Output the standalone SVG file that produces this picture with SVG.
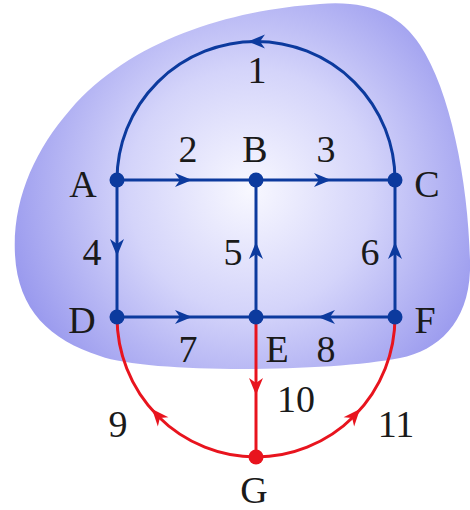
<svg xmlns="http://www.w3.org/2000/svg" xmlns:xlink="http://www.w3.org/1999/xlink" width="470" height="510" viewBox="0 0 470 510">
<defs>
<radialGradient id="bg" gradientUnits="userSpaceOnUse" cx="250" cy="190" r="270">
<stop offset="0" stop-color="#f8f8ff"/>
<stop offset="0.45" stop-color="#d4d4fa"/>
<stop offset="1" stop-color="#9090ec"/>
</radialGradient>
<path id="ah" d="M0,0 L-17,-7 L-12,0 L-17,7 Z"/>
</defs>
<style>
.lb{font-family:"Liberation Serif","Times New Roman",serif;font-size:38px;fill:#1a1a1a;text-anchor:middle}
.b{stroke:#0c3a9e;stroke-width:3;fill:none}
.r{stroke:#e8141e;stroke-width:3;fill:none}
.ab{fill:#0c3a9e}
.ar{fill:#e8141e}
.nb{fill:#0c3a9e}
.nr{fill:#e8141e}
</style>
<path id="blob" d="M15,255 C12,200 35,150 70,110 C130,40 230,10 320,4 C370,0 400,15 420,45 C450,90 468,180 470,260 C472,320 440,350 400,358 C330,372 150,374 100,356 C50,340 18,310 15,255 Z" fill="url(#bg)"/>
<g id="connectors">
<path class="b" d="M117,180 A139 138.5 0 0 1 395,180"/>
<path class="b" d="M117,180 L395,180"/>
<path class="b" d="M117,180 L117,317"/>
<path class="b" d="M256,180 L256,317"/>
<path class="b" d="M395,180 L395,317"/>
<path class="b" d="M117,317 L395,317"/>
<path class="r" d="M117,317 A139 140 0 0 0 256,457"/>
<path class="r" d="M395,317 A139 140 0 0 1 256,457"/>
<path class="r" d="M256,317 L256,457"/>
<use xlink:href="#ah" class="ab" transform="translate(248,41.5) rotate(180)"/>
<use xlink:href="#ah" class="ab" transform="translate(192,180)"/>
<use xlink:href="#ah" class="ab" transform="translate(331,180)"/>
<use xlink:href="#ah" class="ab" transform="translate(117,256) rotate(90)"/>
<use xlink:href="#ah" class="ab" transform="translate(256,242) rotate(-90)"/>
<use xlink:href="#ah" class="ab" transform="translate(395,242) rotate(-90)"/>
<use xlink:href="#ah" class="ab" transform="translate(192,317)"/>
<use xlink:href="#ah" class="ab" transform="translate(318,317) rotate(180)"/>
<use xlink:href="#ah" class="ar" transform="translate(256,395) rotate(90)"/>
<use xlink:href="#ah" class="ar" transform="translate(152,409) rotate(229)"/>
<use xlink:href="#ah" class="ar" transform="translate(360,409) rotate(-49)"/>
</g>
<g id="edge-labels">
<text class="lb" x="257" y="83">1</text>
<text class="lb" x="188" y="162">2</text>
<text class="lb" x="326" y="162">3</text>
<text class="lb" x="92" y="265">4</text>
<text class="lb" x="233" y="265">5</text>
<text class="lb" x="370" y="265">6</text>
<text class="lb" x="188" y="362">7</text>
<text class="lb" x="326" y="362">8</text>
<text class="lb" x="118" y="437">9</text>
<text class="lb" x="296" y="412">10</text>
<text class="lb" x="396" y="437">11</text>
</g>
<g id="A"><circle class="nb" cx="117" cy="180" r="7.5"/><text class="lb" x="83" y="197">A</text></g>
<g id="B"><circle class="nb" cx="256" cy="180" r="7.5"/><text class="lb" x="255" y="162">B</text></g>
<g id="C"><circle class="nb" cx="395" cy="180" r="7.5"/><text class="lb" x="427" y="197">C</text></g>
<g id="D"><circle class="nb" cx="117" cy="317" r="7.5"/><text class="lb" x="82" y="333">D</text></g>
<g id="E"><circle class="nb" cx="256" cy="317" r="7.5"/><text class="lb" x="277" y="362">E</text></g>
<g id="F"><circle class="nb" cx="395" cy="317" r="7.5"/><text class="lb" x="425" y="333">F</text></g>
<g id="G"><circle class="nr" cx="256" cy="457" r="7.5"/><text class="lb" x="254" y="503">G</text></g>
</svg>
